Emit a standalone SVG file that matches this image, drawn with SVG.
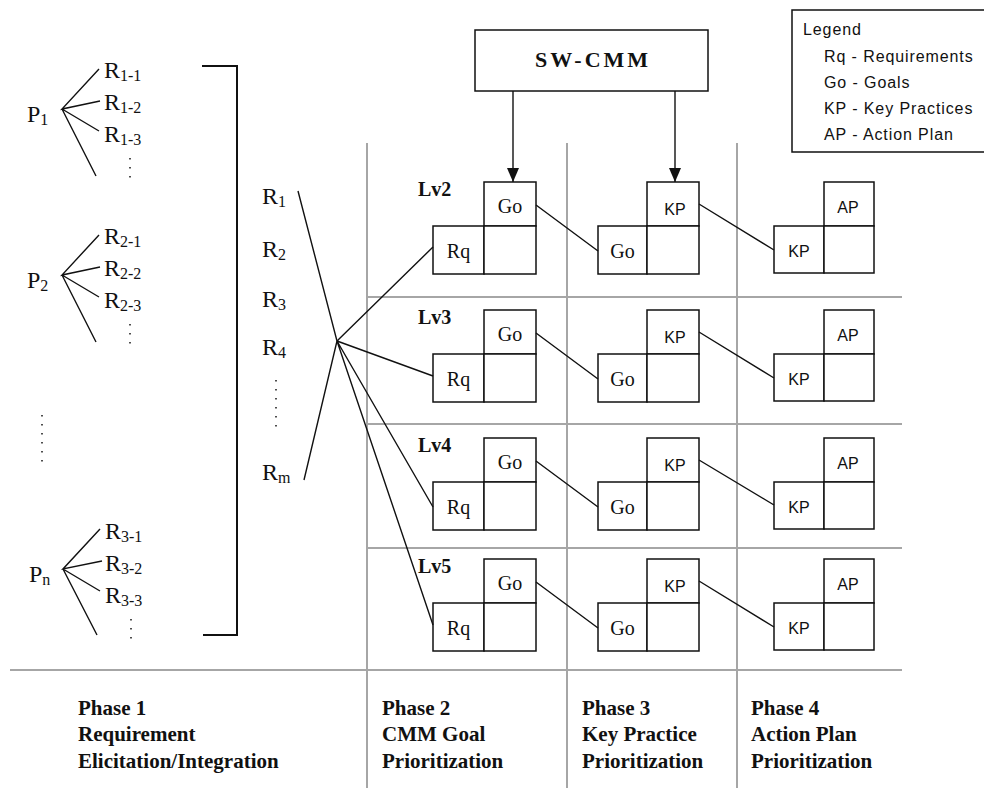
<svg xmlns="http://www.w3.org/2000/svg" width="984" height="788" viewBox="0 0 984 788">
<style>
  .grid { stroke:#a6a6a6; stroke-width:2; fill:none; }
  .ln { stroke:#111; stroke-width:1.4; fill:none; }
  .box { stroke:#111; stroke-width:1.5; fill:#fff; }
  .dots { stroke:#222; stroke-width:1.6; stroke-dasharray:1.6 7.4; fill:none; }
  .rt { font-family:"Liberation Serif","Times New Roman",serif; font-size:24px; fill:#111; }
  .sub { font-size:16px; }
  .cs { font-family:"Liberation Serif","Times New Roman",serif; font-size:20px; fill:#111; text-anchor:middle; }
  .cn { font-family:"Liberation Sans",Arial,sans-serif; font-size:16px; fill:#111; text-anchor:middle; }
  .lv { font-family:"Liberation Serif","Times New Roman",serif; font-size:20px; font-weight:bold; fill:#111; }
  .ph { font-family:"Liberation Serif","Times New Roman",serif; font-size:21px; font-weight:bold; fill:#111; }
  .lg { font-family:"Liberation Sans",Arial,sans-serif; font-size:16px; letter-spacing:0.9px; fill:#111; }
  .sw { font-family:"Liberation Serif","Times New Roman",serif; font-size:22px; font-weight:bold; letter-spacing:3px; fill:#111; text-anchor:middle; }
</style>
<defs>
  <marker id="ah" viewBox="0 0 14 12" markerWidth="14" markerHeight="12" refX="14" refY="6" orient="auto" markerUnits="userSpaceOnUse">
    <path d="M0,0 L14,6 L0,12 z" fill="#111"/>
  </marker>
</defs>
<rect width="984" height="788" fill="#fff"/>

<g id="grid">
  <line class="grid" x1="367" y1="143" x2="367" y2="788"/>
  <line class="grid" x1="567" y1="143" x2="567" y2="788"/>
  <line class="grid" x1="737" y1="143" x2="737" y2="788"/>
  <line class="grid" x1="367" y1="297" x2="902" y2="297"/>
  <line class="grid" x1="367" y1="424" x2="902" y2="424"/>
  <line class="grid" x1="367" y1="548" x2="902" y2="548"/>
  <line class="grid" x1="10" y1="670" x2="902" y2="670"/>
</g>

<g id="legend">
  <path class="box" d="M984,10 H792 V152 H984" fill="none"/>
  <text class="lg" x="803" y="35">Legend</text>
  <text class="lg" x="824" y="62">Rq - Requirements</text>
  <text class="lg" x="824" y="88">Go - Goals</text>
  <text class="lg" x="824" y="114">KP - Key Practices</text>
  <text class="lg" x="824" y="140">AP - Action Plan</text>
</g>

<g id="sw-cmm">
  <rect class="box" x="475" y="30" width="233" height="61"/>
  <text class="sw" x="593" y="67">SW-CMM</text>
</g>

<g id="p1">
  <text class="rt" x="27" y="122">P<tspan class="sub" dy="3">1</tspan></text>
  <text class="rt" x="104" y="78">R<tspan class="sub" dy="3">1-1</tspan></text>
  <text class="rt" x="104" y="110">R<tspan class="sub" dy="3">1-2</tspan></text>
  <text class="rt" x="104" y="142">R<tspan class="sub" dy="3">1-3</tspan></text>
  <line class="dots" x1="130" y1="158" x2="130" y2="180"/>
</g>
<g id="p2">
  <text class="rt" x="27" y="288">P<tspan class="sub" dy="3">2</tspan></text>
  <text class="rt" x="104" y="244">R<tspan class="sub" dy="3">2-1</tspan></text>
  <text class="rt" x="104" y="276">R<tspan class="sub" dy="3">2-2</tspan></text>
  <text class="rt" x="104" y="308">R<tspan class="sub" dy="3">2-3</tspan></text>
  <line class="dots" x1="130" y1="324" x2="130" y2="346"/>
</g>
<g id="p-dots">
  <line class="dots" x1="42" y1="415" x2="42" y2="465"/>
</g>
<g id="pn">
  <text class="rt" x="29" y="582">P<tspan class="sub" dy="3">n</tspan></text>
  <text class="rt" x="105" y="539">R<tspan class="sub" dy="3">3-1</tspan></text>
  <text class="rt" x="105" y="571">R<tspan class="sub" dy="3">3-2</tspan></text>
  <text class="rt" x="105" y="603">R<tspan class="sub" dy="3">3-3</tspan></text>
  <line class="dots" x1="131" y1="619" x2="131" y2="641"/>
</g>

<g id="bracket">
  <path d="M202,66 H237 V635 H203" stroke="#111" stroke-width="2" fill="none"/>
</g>

<g id="r-list">
  <text class="rt" x="262" y="204">R<tspan class="sub" dy="3">1</tspan></text>
  <text class="rt" x="262" y="257">R<tspan class="sub" dy="3">2</tspan></text>
  <text class="rt" x="262" y="307">R<tspan class="sub" dy="3">3</tspan></text>
  <text class="rt" x="262" y="355">R<tspan class="sub" dy="3">4</tspan></text>
  <line class="dots" x1="276" y1="380" x2="276" y2="430"/>
  <text class="rt" x="262" y="480">R<tspan class="sub" dy="3">m</tspan></text>
</g>

<!-- Level rows -->
<g id="lv2">
  <text class="lv" x="418" y="196">Lv2</text>
  <g id="lv2-p2">
    <rect class="box" x="484" y="182" width="52" height="44"/>
    <rect class="box" x="433" y="226" width="51" height="48"/>
    <rect class="box" x="484" y="226" width="52" height="48"/>
    <text class="cs" x="510" y="213">Go</text>
    <text class="cs" x="458.5" y="258">Rq</text>
  </g>
  <g id="lv2-p3">
    <rect class="box" x="647" y="182" width="52" height="44"/>
    <rect class="box" x="598" y="226" width="49" height="48"/>
    <rect class="box" x="647" y="226" width="52" height="48"/>
    <text class="cn" x="675" y="215">KP</text>
    <text class="cs" x="622.5" y="258">Go</text>
  </g>
  <g id="lv2-p4">
    <rect class="box" x="824" y="182" width="50" height="44"/>
    <rect class="box" x="774" y="226" width="50" height="47"/>
    <rect class="box" x="824" y="226" width="50" height="47"/>
    <text class="cn" x="848" y="213">AP</text>
    <text class="cn" x="799" y="257">KP</text>
  </g>
</g>
<g id="lv3">
  <text class="lv" x="418" y="324">Lv3</text>
  <g id="lv3-p2">
    <rect class="box" x="484" y="310" width="52" height="44"/>
    <rect class="box" x="433" y="354" width="51" height="48"/>
    <rect class="box" x="484" y="354" width="52" height="48"/>
    <text class="cs" x="510" y="341">Go</text>
    <text class="cs" x="458.5" y="386">Rq</text>
  </g>
  <g id="lv3-p3">
    <rect class="box" x="647" y="310" width="52" height="44"/>
    <rect class="box" x="598" y="354" width="49" height="48"/>
    <rect class="box" x="647" y="354" width="52" height="48"/>
    <text class="cn" x="675" y="343">KP</text>
    <text class="cs" x="622.5" y="386">Go</text>
  </g>
  <g id="lv3-p4">
    <rect class="box" x="824" y="310" width="50" height="44"/>
    <rect class="box" x="774" y="354" width="50" height="47"/>
    <rect class="box" x="824" y="354" width="50" height="47"/>
    <text class="cn" x="848" y="341">AP</text>
    <text class="cn" x="799" y="385">KP</text>
  </g>
</g>
<g id="lv4">
  <text class="lv" x="418" y="452">Lv4</text>
  <g id="lv4-p2">
    <rect class="box" x="484" y="438" width="52" height="44"/>
    <rect class="box" x="433" y="482" width="51" height="48"/>
    <rect class="box" x="484" y="482" width="52" height="48"/>
    <text class="cs" x="510" y="469">Go</text>
    <text class="cs" x="458.5" y="514">Rq</text>
  </g>
  <g id="lv4-p3">
    <rect class="box" x="647" y="438" width="52" height="44"/>
    <rect class="box" x="598" y="482" width="49" height="48"/>
    <rect class="box" x="647" y="482" width="52" height="48"/>
    <text class="cn" x="675" y="471">KP</text>
    <text class="cs" x="622.5" y="514">Go</text>
  </g>
  <g id="lv4-p4">
    <rect class="box" x="824" y="438" width="50" height="44"/>
    <rect class="box" x="774" y="482" width="50" height="47"/>
    <rect class="box" x="824" y="482" width="50" height="47"/>
    <text class="cn" x="848" y="469">AP</text>
    <text class="cn" x="799" y="513">KP</text>
  </g>
</g>
<g id="lv5">
  <text class="lv" x="418" y="573">Lv5</text>
  <g id="lv5-p2">
    <rect class="box" x="484" y="559" width="52" height="44"/>
    <rect class="box" x="433" y="603" width="51" height="48"/>
    <rect class="box" x="484" y="603" width="52" height="48"/>
    <text class="cs" x="510" y="590">Go</text>
    <text class="cs" x="458.5" y="635">Rq</text>
  </g>
  <g id="lv5-p3">
    <rect class="box" x="647" y="559" width="52" height="44"/>
    <rect class="box" x="598" y="603" width="49" height="48"/>
    <rect class="box" x="647" y="603" width="52" height="48"/>
    <text class="cn" x="675" y="592">KP</text>
    <text class="cs" x="622.5" y="635">Go</text>
  </g>
  <g id="lv5-p4">
    <rect class="box" x="824" y="559" width="50" height="44"/>
    <rect class="box" x="774" y="603" width="50" height="47"/>
    <rect class="box" x="824" y="603" width="50" height="47"/>
    <text class="cn" x="848" y="590">AP</text>
    <text class="cn" x="799" y="634">KP</text>
  </g>
</g>

<g id="phases">
  <text class="ph" x="78" y="715">Phase 1</text>
  <text class="ph" x="78" y="741">Requirement</text>
  <text class="ph" x="78" y="768">Elicitation/Integration</text>
  <text class="ph" x="382" y="715">Phase 2</text>
  <text class="ph" x="382" y="741">CMM Goal</text>
  <text class="ph" x="382" y="768">Prioritization</text>
  <text class="ph" x="582" y="715">Phase 3</text>
  <text class="ph" x="582" y="741">Key Practice</text>
  <text class="ph" x="582" y="768">Prioritization</text>
  <text class="ph" x="751" y="715">Phase 4</text>
  <text class="ph" x="751" y="741">Action Plan</text>
  <text class="ph" x="751" y="768">Prioritization</text>
</g>

<g id="connectors">
  <!-- P fans -->
  <path class="ln" d="M99,69 L62,109 L100,101 M62,109 L99,131 M62,109 L96,176"/>
  <path class="ln" d="M99,235 L62,275 L100,267 M62,275 L99,297 M62,275 L96,342"/>
  <path class="ln" d="M100,529 L63,569 L102,561 M63,569 L100,591 M63,569 L97,635"/>
  <!-- R fan -->
  <path class="ln" d="M298,191 L337,341 L304,480"/>
  <path class="ln" d="M337,341 L433,247 M337,341 L433,376 M337,341 L433,507 M337,341 L433,625"/>
  <!-- SW-CMM arrows -->
  <line class="ln" x1="513" y1="91" x2="513" y2="182" marker-end="url(#ah)"/>
  <line class="ln" x1="675" y1="91" x2="675" y2="182" marker-end="url(#ah)"/>
  <!-- Go -> Go -->
  <path class="ln" d="M536,205 L598,251 M536,333 L598,379 M536,461 L598,507 M536,582 L598,628"/>
  <!-- KP -> KP -->
  <path class="ln" d="M699,204 L774,250 M699,332 L774,378 M699,460 L774,505 M699,581 L774,627"/>
</g>
</svg>
